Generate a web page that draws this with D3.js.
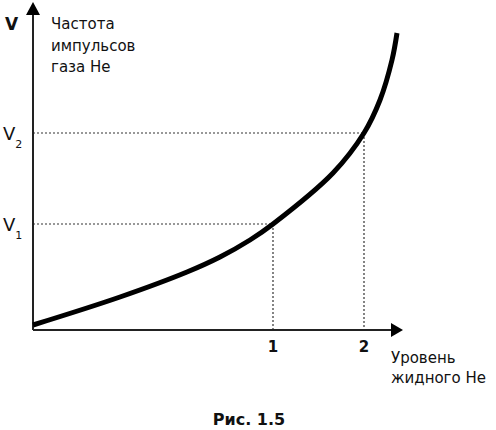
<!DOCTYPE html>
<html>
<head>
<meta charset="utf-8">
<script src="https://cdn.jsdelivr.net/npm/d3@7"></script>
<style>
  html, body { margin: 0; padding: 0; background: #fff; }
  svg { display: block; }
  text { font-family: "DejaVu Sans", "Open Sans", sans-serif; fill: #111; }
</style>
</head>
<body>
<div id="chart"></div>
<script>
// Curve: level of liquid He (x) vs gas He pulse frequency (y), arbitrary units
const levelValues = [0, 0.87, 1.54, 1.87, 2.17, 2.40, 3.00, 3.31, 3.47, 3.59, 3.64];
const freqValues  = [0.05, 0.33, 0.58, 0.73, 0.90, 1.06, 1.57, 1.97, 2.30, 2.70, 2.97];

// Marked points
const levelTickLabels = ["1", "2"];
const levelTickValues = [2.40, 3.31];
const freqTickLabels = ["1", "2"];      // subscripts of V
const freqTickValues = [1.06, 1.97];

const yAxisTitle = ["Частота", "импульсов", "газа Не"];
const xAxisTitle = ["Уровень", "жидного Не"];
const caption = "Рис. 1.5";

const W = 496, H = 430;
const svg = d3.select("#chart").append("svg").attr("width", W).attr("height", H);

const x = d3.scaleLinear().domain([0, 3.7]).range([33, 403]);
const y = d3.scaleLinear().domain([0, 3.28]).range([330, 2]);

const data = levelValues.map((v, i) => ({ x: v, y: freqValues[i] }));

// dotted guide lines
const guides = svg.append("g").attr("stroke", "#333").attr("stroke-width", 1.2)
  .attr("stroke-dasharray", "2,2").attr("fill", "none");
levelTickValues.forEach((lv, i) => {
  const fv = freqTickValues[i];
  guides.append("line").attr("x1", x(0)).attr("x2", x(lv)).attr("y1", y(fv)).attr("y2", y(fv));
  guides.append("line").attr("x1", x(lv)).attr("x2", x(lv)).attr("y1", y(fv)).attr("y2", y(0));
});

// axes
const axes = svg.append("g");
axes.append("line").attr("x1", x(0)).attr("x2", x(3.7) - 10).attr("y1", y(0)).attr("y2", y(0))
  .attr("stroke", "#222").attr("stroke-width", 2);
axes.append("line").attr("x1", x(0)).attr("x2", x(0)).attr("y1", y(0)).attr("y2", y(3.28) + 10)
  .attr("stroke", "#222").attr("stroke-width", 2);
// arrowheads
const xe = x(3.7), ye = y(0);
axes.append("path").attr("d", `M${xe},${ye} L${xe-12},${ye-7} L${xe-12},${ye+7} Z`).attr("fill", "#000");
const xa = x(0), ya = y(3.28);
axes.append("path").attr("d", `M${xa},${ya} L${xa-7},${ya+13} L${xa+7},${ya+13} Z`).attr("fill", "#000");

// curve
svg.append("path").datum(data)
  .attr("fill", "none").attr("stroke", "#000").attr("stroke-width", 5)
  .attr("stroke-linecap", "butt")
  .attr("d", d3.line().x(d => x(d.x)).y(d => y(d.y)).curve(d3.curveCatmullRom.alpha(0.5)));

// x tick labels
levelTickValues.forEach((lv, i) => {
  svg.append("text").attr("x", x(lv)).attr("y", y(0) + 22)
    .attr("text-anchor", "middle").attr("font-size", 15).attr("font-weight", 700)
    .text(levelTickLabels[i]);
});

// y tick labels V1, V2
freqTickValues.forEach((fv, i) => {
  const t = svg.append("text").attr("x", 3).attr("y", y(fv) + 7).attr("font-size", 18);
  t.append("tspan").text("V");
  t.append("tspan").attr("font-size", 11).attr("dx", 0).attr("dy", 8).text(freqTickLabels[i]);
});

// axis symbol V
svg.append("text").attr("x", 5).attr("y", 30).attr("font-size", 17).attr("font-weight", 700).text("V");

// y axis title
yAxisTitle.forEach((s, i) => {
  svg.append("text").attr("x", 51).attr("y", 29 + i * 21.5).attr("font-size", 15).text(s);
});
// x axis title
xAxisTitle.forEach((s, i) => {
  svg.append("text").attr("x", 391).attr("y", 363 + i * 20).attr("font-size", 15).text(s);
});

// caption
svg.append("text").attr("x", 249).attr("y", 425).attr("text-anchor", "middle")
  .attr("font-size", 16).attr("font-weight", 700).text(caption);
</script>
</body>
</html>
